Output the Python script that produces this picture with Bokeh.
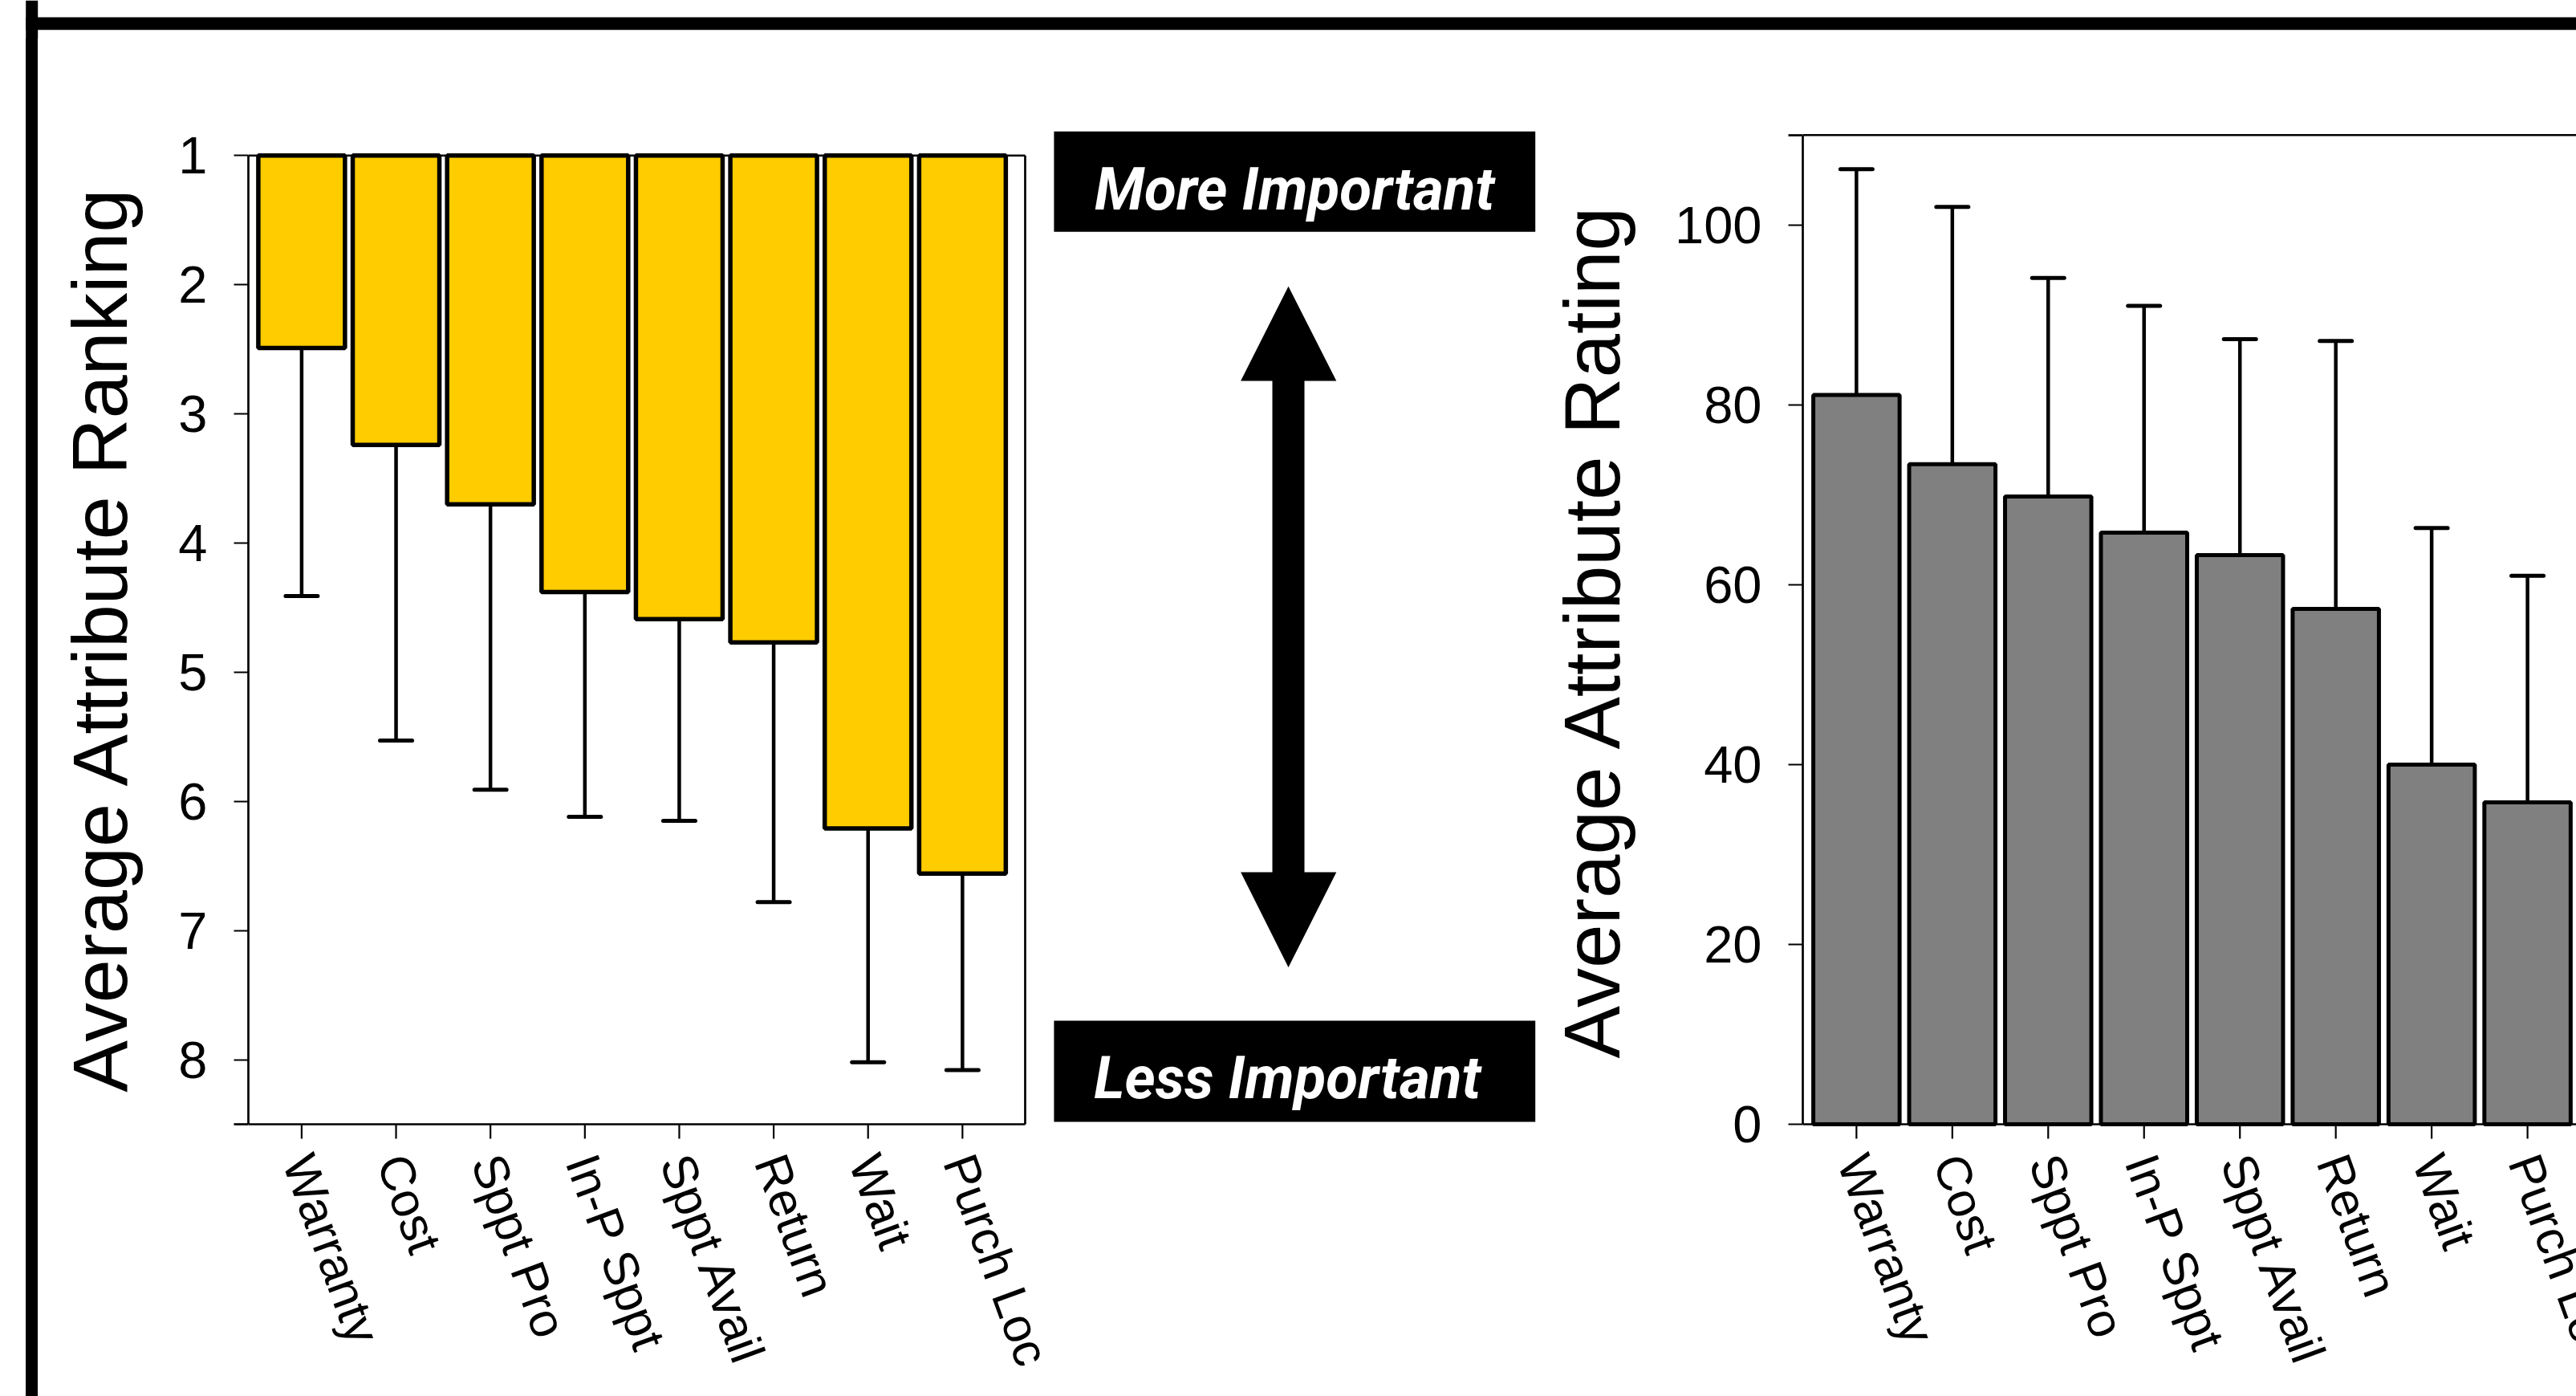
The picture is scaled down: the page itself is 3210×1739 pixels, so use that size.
import math
from bokeh.plotting import figure
from bokeh.models import (Range1d, FixedTicker, ColumnDataSource, Whisker, TeeHead, Span, Div)
from bokeh.layouts import column, row
from bokeh.embed import file_html
from bokeh.resources import INLINE
from bokeh.core.properties import value

# ---------------- data ----------------
categories = ["Warranty", "Cost", "Sppt Pro", "In-P Sppt", "Sppt Avail", "Return", "Wait", "Purch Loc"]
rank_mean = [2.49, 3.24, 3.70, 4.38, 4.59, 4.77, 6.21, 6.56]
rank_sd = [1.92, 2.29, 2.21, 1.74, 1.56, 2.01, 1.81, 1.52]
rank_ticks = [1, 2, 3, 4, 5, 6, 7, 8]
rank_base = 1
rank_limit = 8.5
rating_mean = [81.1, 73.4, 69.8, 65.8, 63.3, 57.3, 40.0, 35.8]
rating_sd = [25.1, 28.6, 24.3, 25.2, 24.0, 29.8, 26.3, 25.2]
rating_ticks = [0, 20, 40, 60, 80, 100]
rating_base = 0
rating_limit = 110
rank_title = "Average Attribute Ranking"
rating_title = "Average Attribute Rating"
label_top = "More Important"
label_bottom = "Less  Important"

FONT = "Liberation Sans"
TOTAL_W = 3210
TOP_H = 48
ROW_H = 1739 - TOP_H
BT = 110            # common top border of the row figures (frame top at y=158)
AXIS_Y = 1400       # pixel row of the category axes
BELOW = 1739 - AXIS_Y   # pixels of frame below the category axis
TICK_OUT = 18
LAB_OFF = 40        # pixels from axis line to start of category labels
XLAB_SIZE = "61px"
XLAB_ANGLE = math.radians(-70)
# the y titles are centred on the (taller) frame; leading em-spaces lift them to sit beside the axis
LIFT_RANK = "\u2003\u2003\u2003\u2006"
LIFT_RATING = "\u2003\u2003\u2003\u2004"

# x extents (in category units) of the two chart boxes
P1_X0, P1_BOX_X1, P1_X1 = -0.5644, 7.664, 7.8428
P2_X0, P2_X1 = -0.5597, 7.5099


def deco_fig(w, h, x0, x1, ybottom, ytop, bt=0, bb=0):
    f = figure(width=w, height=h, x_range=Range1d(x0, x1), y_range=Range1d(ybottom, ytop),
               x_axis_type=None, y_axis_type=None, output_backend="svg", toolbar_location=None,
               min_border=0, min_border_left=0, min_border_right=0, min_border_top=bt, min_border_bottom=bb)
    f.outline_line_color = None
    f.grid.visible = False
    f.background_fill_color = "white"
    f.border_fill_color = "white"
    return f


def style_axis(ax):
    ax.axis_line_width = 2.7
    ax.axis_line_color = "black"
    ax.major_tick_line_width = 2.2
    ax.major_tick_line_color = "black"
    ax.major_tick_in = 0
    ax.major_tick_out = TICK_OUT
    ax.minor_tick_line_color = "black"
    ax.minor_tick_line_width = 2.7
    ax.minor_tick_in = 0
    ax.minor_tick_out = TICK_OUT
    ax.major_label_text_font = FONT
    ax.major_label_text_color = "black"
    ax.axis_label_text_font = FONT
    ax.axis_label_text_font_style = "normal"
    ax.axis_label_text_color = "black"


def category_axis(p, base, px_per_unit, sign, x_left, x_right):
    """Category axis drawn at value `base`: line, ticks and rotated labels (sign: +1 if values grow downwards)."""
    p.segment(x0=[x_left], x1=[x_right], y0=[base], y1=[base], line_color="black", line_width=2.7)
    tick_end = base + sign * TICK_OUT / px_per_unit
    lab_y = base + sign * LAB_OFF / px_per_unit
    p.segment(x0=x_idx, x1=x_idx, y0=[base] * len(x_idx), y1=[tick_end] * len(x_idx),
              line_color="black", line_width=2.2)
    p.text(x=x_idx, y=[lab_y] * len(x_idx), text=categories, angle=XLAB_ANGLE, x_offset=-5,
           text_font=value(FONT), text_font_size=XLAB_SIZE, text_color="black",
           text_align="left", text_baseline="middle")


x_idx = list(range(len(categories)))

# ---------------- page frame: top bar and left rule ----------------
top = deco_fig(TOTAL_W, TOP_H, 0, TOTAL_W, TOP_H, 0)
top.quad(left=[31.7], right=[TOTAL_W], top=[21], bottom=[36.7], fill_color="black", line_color=None)
top.quad(left=[31.7], right=[46.7], top=[0], bottom=[TOP_H], fill_color="black", line_color=None)

strip = Div(text="", width=47, height=ROW_H, margin=0,
            styles={"background": "linear-gradient(to right, #ffffff 31.7px, #000000 31.7px, "
                                  "#000000 46.7px, #ffffff 46.7px)"})

# ---------------- left chart: ranking ----------------
rank_px = (AXIS_Y - 158) / (rank_limit - 0.781)
p1 = figure(width=1251, height=ROW_H, x_range=Range1d(P1_X0, P1_X1),
            y_range=Range1d(rank_limit + BELOW / rank_px, 0.781), x_axis_type=None,
            output_backend="svg", toolbar_location=None,
            min_border_left=262, min_border_right=0, min_border_top=BT, min_border_bottom=0)
p1.grid.visible = False
p1.outline_line_color = None

src1 = ColumnDataSource(dict(x=x_idx, base=[rank_base] * len(x_idx), v=rank_mean,
                             hi=[m + s for m, s in zip(rank_mean, rank_sd)]))
p1.vbar(x="x", width=0.918, top="base", bottom="v", source=src1,
        fill_color="#FFCC00", line_color="black", line_width=5.5)
w1 = Whisker(source=src1, base="x", lower="v", upper="hi", dimension="height",
             line_width=4.5, line_color="black", level="overlay",
             upper_head=TeeHead(size=40, line_width=5, line_color="black", line_cap="round"),
             lower_head=None)
p1.add_layout(w1)
# box: top rule and right rule
p1.segment(x0=[P1_X0], x1=[P1_BOX_X1], y0=[rank_base], y1=[rank_base], line_color="black", line_width=2.7)
p1.segment(x0=[P1_BOX_X1], x1=[P1_BOX_X1], y0=[rank_base], y1=[rank_limit], line_color="black", line_width=2.7)
category_axis(p1, rank_limit, rank_px, +1, P1_X0, P1_BOX_X1)

yl1 = p1.left[0]
yl1.ticker = FixedTicker(ticks=rank_ticks, minor_ticks=[rank_limit])
yl1.bounds = (rank_base, rank_limit)
yl1.axis_label = LIFT_RANK + rank_title
style_axis(yl1)
yl1.major_label_text_font_size = "65px"
yl1.major_label_standoff = 33
yl1.axis_label_text_font_size = "97px"
yl1.axis_label_standoff = 40

# ---------------- middle: importance arrow ----------------
mid = deco_fig(628, ROW_H, 1298, 1926, 1739, 158, bt=BT, bb=0)
mid.quad(left=[1312.9], right=[1912.7], top=[163.3], bottom=[288.3], fill_color="black", line_color=None)
mid.quad(left=[1312.9], right=[1912.7], top=[1271], bottom=[1397], fill_color="black", line_color=None)
mid.text(x=[1612.8], y=[235.7], text=[label_top], text_font=value("Roboto"), text_font_style="bold italic",
         text_font_size="73px", text_color="white", text_align="center", text_baseline="alphabetic")
mid.text(x=[1612.8], y=[1342], text=[label_bottom], text_font=value("Roboto"), text_font_style="bold italic",
         text_font_size="73px", text_color="white", text_align="center", text_baseline="alphabetic")
ax_ = [1605, 1664.8, 1625, 1625, 1664.8, 1605, 1545.6, 1585, 1585, 1545.6]
ay_ = [356.3, 474, 474, 1086, 1086, 1204.6, 1086, 1086, 474, 474]
mid.patch(x=ax_, y=ay_, fill_color="black", line_color=None)

# ---------------- right chart: rating ----------------
rating_px = (AXIS_Y - 158) / 110.87
p2 = figure(width=1284, height=ROW_H, x_range=Range1d(P2_X0, P2_X1),
            y_range=Range1d(rating_base - BELOW / rating_px, 110.87), x_axis_type=None,
            output_backend="svg", toolbar_location=None,
            min_border_left=318, min_border_right=0, min_border_top=BT, min_border_bottom=0)
p2.grid.visible = False
p2.outline_line_color = None

src2 = ColumnDataSource(dict(x=x_idx, base=[rating_base] * len(x_idx), v=rating_mean,
                             hi=[m + s for m, s in zip(rating_mean, rating_sd)]))
p2.vbar(x="x", width=0.9, top="v", bottom="base", source=src2,
        fill_color="#808080", line_color="black", line_width=5)
w2 = Whisker(source=src2, base="x", lower="v", upper="hi", dimension="height",
             line_width=4.5, line_color="black", level="overlay",
             upper_head=TeeHead(size=40, line_width=5, line_color="black", line_cap="round"),
             lower_head=None)
p2.add_layout(w2)
p2.add_layout(Span(location=rating_limit, dimension="width", line_color="black", line_width=2.4))
category_axis(p2, rating_base, rating_px, -1, P2_X0, P2_X1)

yl2 = p2.left[0]
yl2.ticker = FixedTicker(ticks=rating_ticks, minor_ticks=[rating_limit])
yl2.bounds = (rating_base, rating_limit)
yl2.axis_label = LIFT_RATING + rating_title
style_axis(yl2)
yl2.major_label_text_font_size = "65px"
yl2.major_label_standoff = 33
yl2.axis_label_text_font_size = "98px"
yl2.axis_label_standoff = 45

layout = column(top, row(strip, p1, mid, p2))
open("out.html", "w").write(file_html(layout, INLINE))
